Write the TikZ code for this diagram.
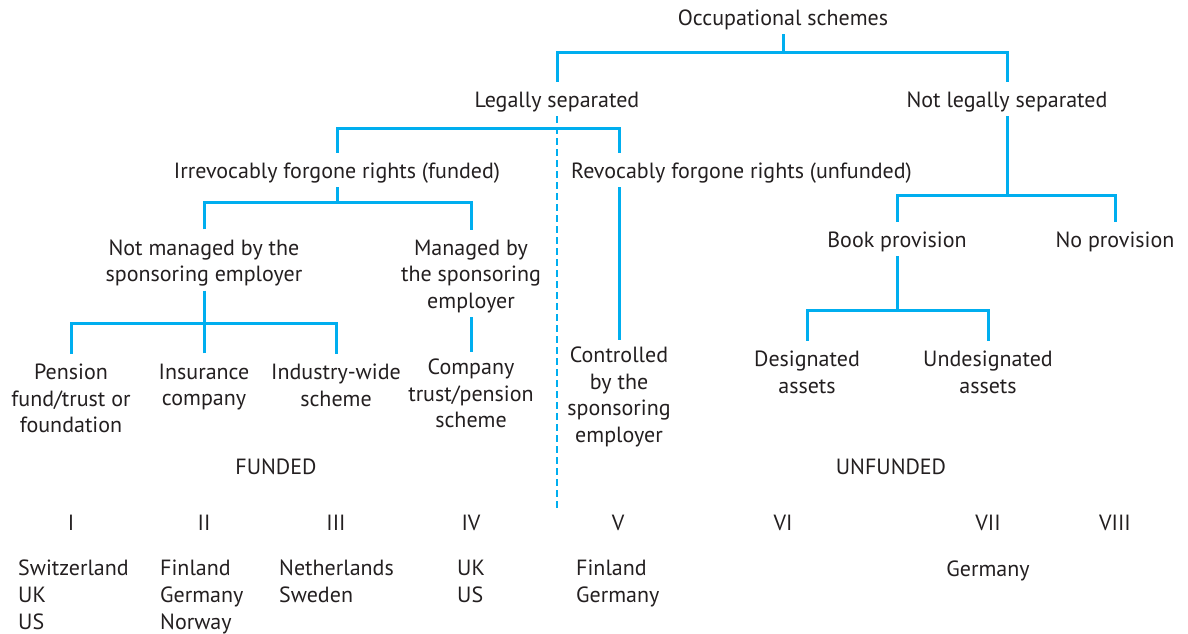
\documentclass[tikz,border=0pt]{standalone}
\usepackage{fontspec}
\setmainfont{PT Sans}
\definecolor{lc}{RGB}{0,174,239}
\definecolor{tx}{RGB}{35,31,32}
\begin{document}
\begin{tikzpicture}[x=1pt,y=-1pt,
  lbl/.style={font=\fontsize{22}{26.7}\selectfont, text=tx, align=center, inner xsep=0pt, inner ysep=4pt},
  plain/.style={font=\fontsize{22}{26.7}\selectfont, text=tx, align=left, inner sep=0pt, anchor=west},
  conn/.style={draw=lc, line width=3pt},
  sa/.style={shorten <=6pt},
  sb/.style={shorten >=6pt},
  dconn/.style={draw=lc, line width=2.6pt, dash pattern=on 7pt off 4pt}]
\useasboundingbox (0,0) rectangle (1188,634);
% tree nodes
\node[lbl] (occ) at (783,20) {Occupational schemes};
\node[lbl] (legal) at (557,102) {Legally separated};
\node[lbl] (notlegal) at (1007,102) {Not legally separated};
\node[lbl] (irrev) at (337,173) {Irrevocably forgone rights (funded)};
\node[lbl, anchor=west] (revoc) at (571,173) {Revocably forgone rights (unfunded)};
\node[lbl] (notman) at (204,263) {Not managed by the\\sponsoring employer};
\node[lbl] (man) at (471,276.5) {Managed by\\the sponsoring\\employer};
\node[lbl] (pension) at (71,398.5) {Pension\\fund/trust or\\foundation};
\node[lbl] (insur) at (204,387) {Insurance\\company};
\node[lbl] (indus) at (336,385) {Industry-wide\\scheme};
\node[lbl] (company) at (471,393.5) {Company\\trust/pension\\scheme};
\node[lbl] (ctrl) at (619,397) {Controlled\\by the\\sponsoring\\employer};
\node[lbl] (book) at (897,242) {Book provision};
\node[lbl] (nopro) at (1115,242) {No provision};
\node[lbl] (desig) at (807,372) {Designated\\assets};
\node[lbl] (undes) at (988,372) {Undesignated\\assets};
\node[lbl] (funded) at (276,467) {FUNDED};
\node[lbl] (unfunded) at (891,467) {UNFUNDED};
% numerals
\node[lbl] (n1) at (71,523) {I};
\node[lbl] (n2) at (204,523) {II};
\node[lbl] (n3) at (336,523) {III};
\node[lbl] (n4) at (471,523) {IV};
\node[lbl] (n5) at (618,523) {V};
\node[lbl] (n6) at (783,523) {VI};
\node[lbl] (n7) at (988,523) {VII};
\node[lbl] (n8) at (1115,523) {VIII};
% countries
\node[plain] (c1) at (18,597) {\strut Switzerland\\UK\\US\strut};
\node[plain] (c2) at (160,597) {\strut Finland\\Germany\\Norway\strut};
\node[plain] (c3) at (279,584) {\strut Netherlands\\Sweden\strut};
\node[plain] (c4) at (457,584) {\strut UK\\US\strut};
\node[plain] (c5) at (576,584) {\strut Finland\\Germany\strut};
\node[plain, anchor=center] (c7) at (988,571) {\strut Germany\strut};
% junctions
\coordinate (b1) at (783,53);
\coordinate (b2) at (557,128);
\coordinate (b3) at (337,202);
\coordinate (b4) at (204,323);
\coordinate (b5) at (1007,195);
\coordinate (b6) at (897,310);
\coordinate (dend) at (557,508);
% connectors
\draw[conn] (occ.south) -- (b1);
\draw[conn, sa, sb] (legal.north) |- (b1) -| (notlegal.north);
\draw[dconn] (legal.south) -- (dend);
\draw[conn, sa, sb] (irrev.north) |- (b2) -| (revoc.north -| ctrl.north);
\draw[conn, shorten >=3pt] (revoc.south -| ctrl.north) -- (ctrl.north);
\draw[conn] (irrev.south) -- (b3);
\draw[conn, sa, sb] (notman.north) |- (b3) -| (man.north);
\draw[conn] (notman.south) -- (b4);
\draw[conn, sa, sb] (pension.north) |- (b4) -| (indus.north);
\draw[conn, sa] (insur.north) -- (b4);
\draw[conn, shorten >=3pt] (man.south) -- (company.north);
\draw[conn] (notlegal.south) -- (b5);
\draw[conn, sa, sb] (book.north) |- (b5) -| (nopro.north);
\draw[conn] (book.south) -- (b6);
\draw[conn, sa, sb] (desig.north) |- (b6) -| (undes.north);
\end{tikzpicture}
\end{document}
